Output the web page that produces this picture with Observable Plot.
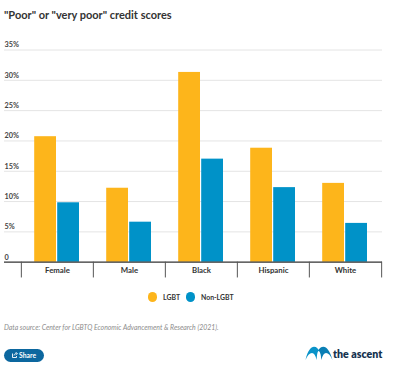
<!DOCTYPE html>
<html><head><meta charset="utf-8">
<script src="https://cdn.jsdelivr.net/npm/d3@7"></script>
<script src="https://cdn.jsdelivr.net/npm/@observablehq/plot@0.6"></script>
<style>
html,body{margin:0;padding:0;background:#fff;width:400px;height:376px;overflow:hidden;font-family:"Lato",sans-serif;color:#333}
#wrap{position:relative;width:400px;height:376px}
#title{position:absolute;left:4px;top:6px;font-size:11px;font-weight:700;line-height:18px;color:#333;white-space:nowrap}
#chart{position:absolute;left:0;top:30px}
.lg{position:absolute;top:292px;width:9.5px;height:9.5px;border-radius:50%}
.lt{position:absolute;top:291px;font-size:6.9px;font-weight:700;line-height:12px;color:#333;white-space:nowrap}
#source{position:absolute;left:4px;top:321px;font-size:6.9px;font-style:italic;line-height:12px;color:#8c8c8c;white-space:nowrap}
#share{position:absolute;left:4px;top:349px;width:40px;height:13px;border-radius:7px;background:#0c679f;color:#fff;font-size:6.8px;font-weight:700;line-height:13px}
#share span{position:absolute;left:15px}
#share svg{position:absolute;left:8px;top:3px}
#logo{position:absolute;left:305px;top:346px;width:28px;height:16px}
#brand{position:absolute;left:333px;top:347px;font-family:"Lato",sans-serif;font-size:10.6px;font-weight:800;line-height:14px;color:#15324f;white-space:nowrap}
</style></head><body>
<div id="wrap">
<div id="title"></div>
<div id="chart"></div>
<div id="legend"></div>
<div id="source"></div>
<div id="share"><svg width="6" height="6" viewBox="0 0 6 6"><path d="M.5 1.5v4h4V4M2 3.5C2.3 2 3.2 1.5 4.2 1.5M3.6.3 5.5 1.6 3.6 2.8" fill="none" stroke="#fff" stroke-width=".9"/></svg><span>Share</span></div>
<svg id="logo" viewBox="0 0 28 16"><path d="M.5 14C2.500 5 6 .8 9 .8c2.600 0 4 2 5 3.700-1.500 1-2 3-2.300 9.500C10.500 9.500 9 7 7 7 4.500 7 2.500 9.500.5 14Z" fill="#0a93c9"/><path d="M13 4.500c1.500-2 3-3.700 5.500-3.700 3 0 6.500 4 9 13.200-2-4.500-4-7-6.500-7-2 0-3.500 2.500-4.700 7C16 8 15 5.500 13 4.500Z" fill="#0a7fb5"/></svg>
<div id="brand">the ascent</div>
</div>
<script>
const titleText = '"Poor" or "very poor" credit scores';
const sourceText = 'Data source: Center for LGBTQ Economic Advancement & Research (2021).';
const categories = ["Female","Male","Black","Hispanic","White"];
const lgbt = [20.7,12.2,31.3,18.8,13.0];
const nonLgbt = [9.8,6.6,17.0,12.3,6.4];
const yTicks = [0,5,10,15,20,25,30,35];
const yLabels = ["0","5%","10%","15%","20%","25%","30%","35%"];
const seriesNames = ["LGBT","Non-LGBT"];
const seriesColors = ["#FDB51B","#0092C8"];

document.getElementById("title").textContent = titleText;
document.getElementById("source").textContent = sourceText;

const plot = Plot.plot({
  width: 400, height: 256,
  marginTop: 19.5, marginBottom: 24.3, marginLeft: 4, marginRight: 18,
  style: {fontFamily: '"Lato",sans-serif', background: "transparent"},
  x: {domain: categories, range: [20.5, 382], padding: 0, axis: null},
  y: {domain: [0, 35], axis: null},
  marks: [
    Plot.ruleY(yTicks.slice(1), {y: d => d, stroke: "#e4e4e4", strokeWidth: 1}),
    Plot.barY(categories, {x: d => d, y: (d,i) => lgbt[i], fill: seriesColors[0], insetLeft: 13.2, insetRight: 37}),
    Plot.barY(categories, {x: d => d, y: (d,i) => nonLgbt[i], fill: seriesColors[1], insetLeft: 36.2, insetRight: 14}),
    Plot.ruleY([0], {y: d => d, stroke: "#333", strokeWidth: 1.3}),
    Plot.ruleX(categories, {x: d => d, dx: -36.15, y1: 0, y2: -2.6, stroke: "#555", strokeWidth: 1}),
    Plot.ruleX(categories.slice(-1), {x: d => d, dx: 36.15, y1: 0, y2: -2.6, stroke: "#555", strokeWidth: 1}),
    Plot.text(yTicks, {y: d => d, text: (d,i) => yLabels[i], frameAnchor: "left", textAnchor: "start", dy: -5, fontSize: 7.3, fontWeight: 700, fill: "#444"}),
    Plot.text(categories, {x: d => d, y: 0, text: d => d, dy: 8, fontSize: 7.8, fontWeight: 700, fill: "#333"})
  ]
});
document.getElementById("chart").appendChild(plot);

const legend = document.getElementById("legend");
const swatchX = [147.500,185.500], textX = [163,201];
seriesNames.forEach((n,i) => {
  const s = document.createElement("div"); s.className = "lg"; s.style.left = swatchX[i]+"px"; s.style.background = seriesColors[i]; legend.appendChild(s);
  const t = document.createElement("div"); t.className = "lt"; t.style.left = textX[i]+"px"; t.textContent = n; legend.appendChild(t);
});
</script>
</body></html>
